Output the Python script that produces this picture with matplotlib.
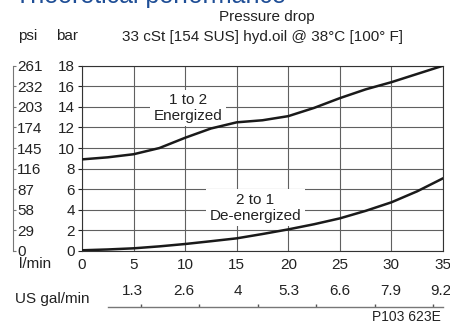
import matplotlib
matplotlib.use("Agg")
import matplotlib.pyplot as plt
import numpy as np

plt.rcParams['font.family'] = ['Liberation Sans', 'DejaVu Sans']

# ---- data ----
flow_lpm = [0, 2.5, 5, 7.5, 10, 12.5, 15, 17.5, 20, 22.5, 25, 27.5, 30, 32.5, 35]
energized_bar = [8.9, 9.1, 9.4, 10.0, 11.0, 11.9, 12.5, 12.7, 13.1, 13.9, 14.85, 15.7, 16.4, 17.2, 18.0]
deenergized_bar = [0.07, 0.15, 0.26, 0.45, 0.68, 0.95, 1.23, 1.65, 2.1, 2.6, 3.17, 3.9, 4.73, 5.8, 7.06]

bar_ticks = [0, 2, 4, 6, 8, 10, 12, 14, 16, 18]
psi_labels = ['0', '29', '58', '87', '116', '145', '174', '203', '232', '261']
lpm_ticks = [0, 5, 10, 15, 20, 25, 30, 35]
gal_labels = ['1.3', '2.6', '4', '5.3', '6.6', '7.9', '9.2']
gal_label_vals = [1.3, 2.6, 4.0, 5.3, 6.6, 7.9, 9.2]
gal_mark_vals = [1.5, 3.0, 4.5, 6.0, 7.5, 9.0]
LPM_PER_GAL = 3.785

FS = 11
W, H = 450, 324
fig = plt.figure(figsize=(W / 100, H / 100), dpi=100)

def fx(px):
    return px / W

def fy(py):
    return 1 - py / H

left, right, top, bottom = 82, 443, 65.7, 251
ax = fig.add_axes([fx(left), fy(bottom), (right - left) / W, (bottom - top) / H])
ax.set_xlim(0, 35)
ax.set_ylim(0, 18)
ax.set_xticks(lpm_ticks)
ax.set_yticks(bar_ticks)
ax.grid(True, color='#606060', linewidth=0.8)
ax.set_axisbelow(True)
for s in ax.spines.values():
    s.set_color('#333333')
    s.set_linewidth(0.8)
ax.tick_params(axis='y', length=3, width=0.8, pad=2, labelsize=FS, colors='#222222')
ax.tick_params(axis='x', length=0, pad=5, labelsize=FS, colors='#222222')

ax.plot(flow_lpm, energized_bar, color='#1a1a1a', linewidth=1.8, solid_capstyle='round', zorder=3)
ax.plot(flow_lpm, deenergized_bar, color='#1a1a1a', linewidth=1.8, solid_capstyle='round', zorder=3)

bb = dict(facecolor='white', edgecolor='none', pad=2.5)
ax.text(10.3, 13.9, '1 to 2\nEnergized', ha='center', va='center', fontsize=FS,
        linespacing=1.15, bbox=bb, zorder=2, color='#222222')
ax.text(16.8, 4.2, '2 to 1\nDe-energized', ha='center', va='center', fontsize=FS,
        linespacing=1.15, bbox=bb, zorder=2, color='#222222')

# psi axis
axp = fig.add_axes([fx(12.7), fy(bottom), 0.0005, (bottom - top) / H])
axp.set_ylim(0, 18)
axp.set_xticks([])
for k in ['left', 'top', 'bottom']:
    axp.spines[k].set_visible(False)
axp.spines['right'].set_color('#777777')
axp.spines['right'].set_linewidth(0.8)
axp.patch.set_visible(False)
axp.yaxis.tick_right()
axp.set_yticks(bar_ticks)
axp.set_yticklabels(psi_labels)
axp.tick_params(axis='y', direction='out', length=2, width=0.8, pad=1, labelsize=FS,
                colors='#777777', labelcolor='#222222')

# gal axis
axg = fig.add_axes([fx(left), fy(307), (right - left) / W, 0.0005])
axg.set_xlim(0, 35)
axg.set_yticks([])
axg.patch.set_visible(False)
for k in ['left', 'right', 'top']:
    axg.spines[k].set_visible(False)
axg.spines['bottom'].set_color('#777777')
axg.spines['bottom'].set_linewidth(1.0)
axg.spines['bottom'].set_bounds(2.5, 35)
axg.set_xticks([v * LPM_PER_GAL for v in gal_label_vals])
axg.set_xticklabels(gal_labels)
axg.tick_params(axis='x', which='major', bottom=False, top=False, labelbottom=False,
                labeltop=True, pad=3, labelsize=FS, labelcolor='#222222')
axg.set_xticks([v * LPM_PER_GAL for v in gal_mark_vals], minor=True)
axg.tick_params(axis='x', which='minor', direction='in', length=2, width=1.0, color='#555555')

# texts
fig.text(fx(15), fy(3), 'Theoretical performance', fontsize=18, color='#1f4e96',
         ha='left', va='baseline')
fig.text(fx(267), fy(17), 'Pressure drop', fontsize=FS, ha='center', va='center', color='#222222')
fig.text(fx(263), fy(37), '33 cSt [154 SUS] hyd.oil @ 38°C [100° F]', fontsize=FS,
         ha='center', va='center', color='#222222')
fig.text(fx(28), fy(36), 'psi', fontsize=FS, ha='center', va='center', color='#222222')
fig.text(fx(67), fy(36), 'bar', fontsize=FS, ha='center', va='center', color='#222222')
fig.text(fx(35), fy(264), 'l/min', fontsize=FS, ha='center', va='center', color='#222222')
fig.text(fx(15), fy(299), 'US gal/min', fontsize=FS, ha='left', va='center', color='#222222')
fig.text(fx(441), fy(317), 'P103 623E', fontsize=10, ha='right', va='center', color='#222222')

fig.savefig('out.png', dpi=100)
